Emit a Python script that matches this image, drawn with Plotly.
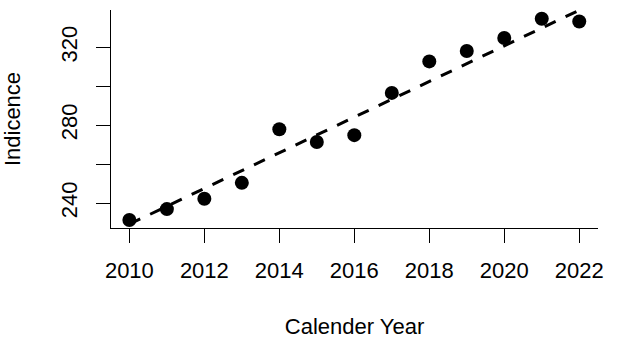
import plotly.graph_objects as go

years = [2010, 2011, 2012, 2013, 2014, 2015, 2016, 2017, 2018, 2019, 2020, 2021, 2022]
incidence = [231.3, 236.9, 242.2, 250.4, 277.9, 271.4, 274.9, 296.6, 312.8, 318.1, 324.8, 334.7, 333.3]
trend_years = [2010, 2022]
trend_values = [229.2, 339.1]
x_ticks = [2010, 2012, 2014, 2016, 2018, 2020, 2022]
y_ticks = [240, 260, 280, 300, 320]
y_tick_text = ["240", "", "280", "", "320"]

FONT = "Liberation Sans, Arial, sans-serif"

fig = go.Figure()
fig.add_trace(go.Scatter(
    x=years, y=incidence, mode="markers",
    marker=dict(size=14, color="black"),
    showlegend=False,
))
fig.add_trace(go.Scatter(
    x=trend_years, y=trend_values, mode="lines",
    line=dict(color="black", width=3, dash="12px,11px"),
    showlegend=False,
))

axis_common = dict(
    showgrid=False, zeroline=False, showline=True, linecolor="black", linewidth=1.3,
    ticks="outside", ticklen=14, tickwidth=1.3, tickcolor="black",
    tickfont=dict(family=FONT, size=22, color="black"),
)
fig.update_xaxes(
    **axis_common, range=[2009.51, 2022.5], tickvals=x_ticks,
    ticklabelstandoff=8,
    title=dict(text="Calender Year", font=dict(family=FONT, size=22, color="black"), standoff=37),
)
fig.update_yaxes(
    **axis_common, range=[227.2, 339.2], tickvals=y_ticks, ticktext=y_tick_text,
    tickangle=-90, ticklabelstandoff=10,
    title=dict(text="Indicence", font=dict(family=FONT, size=22, color="black"), standoff=30),
)
fig.update_layout(
    width=624, height=342,
    margin=dict(l=111, r=26, t=10, b=114, autoexpand=False),
    paper_bgcolor="white", plot_bgcolor="white",
    font=dict(family=FONT, size=22, color="black"),
)
fig.write_html(
    "out.html",
    config={"displayModeBar": False},
    post_script="document.body.style.margin='0';document.body.style.padding='0';",
)
